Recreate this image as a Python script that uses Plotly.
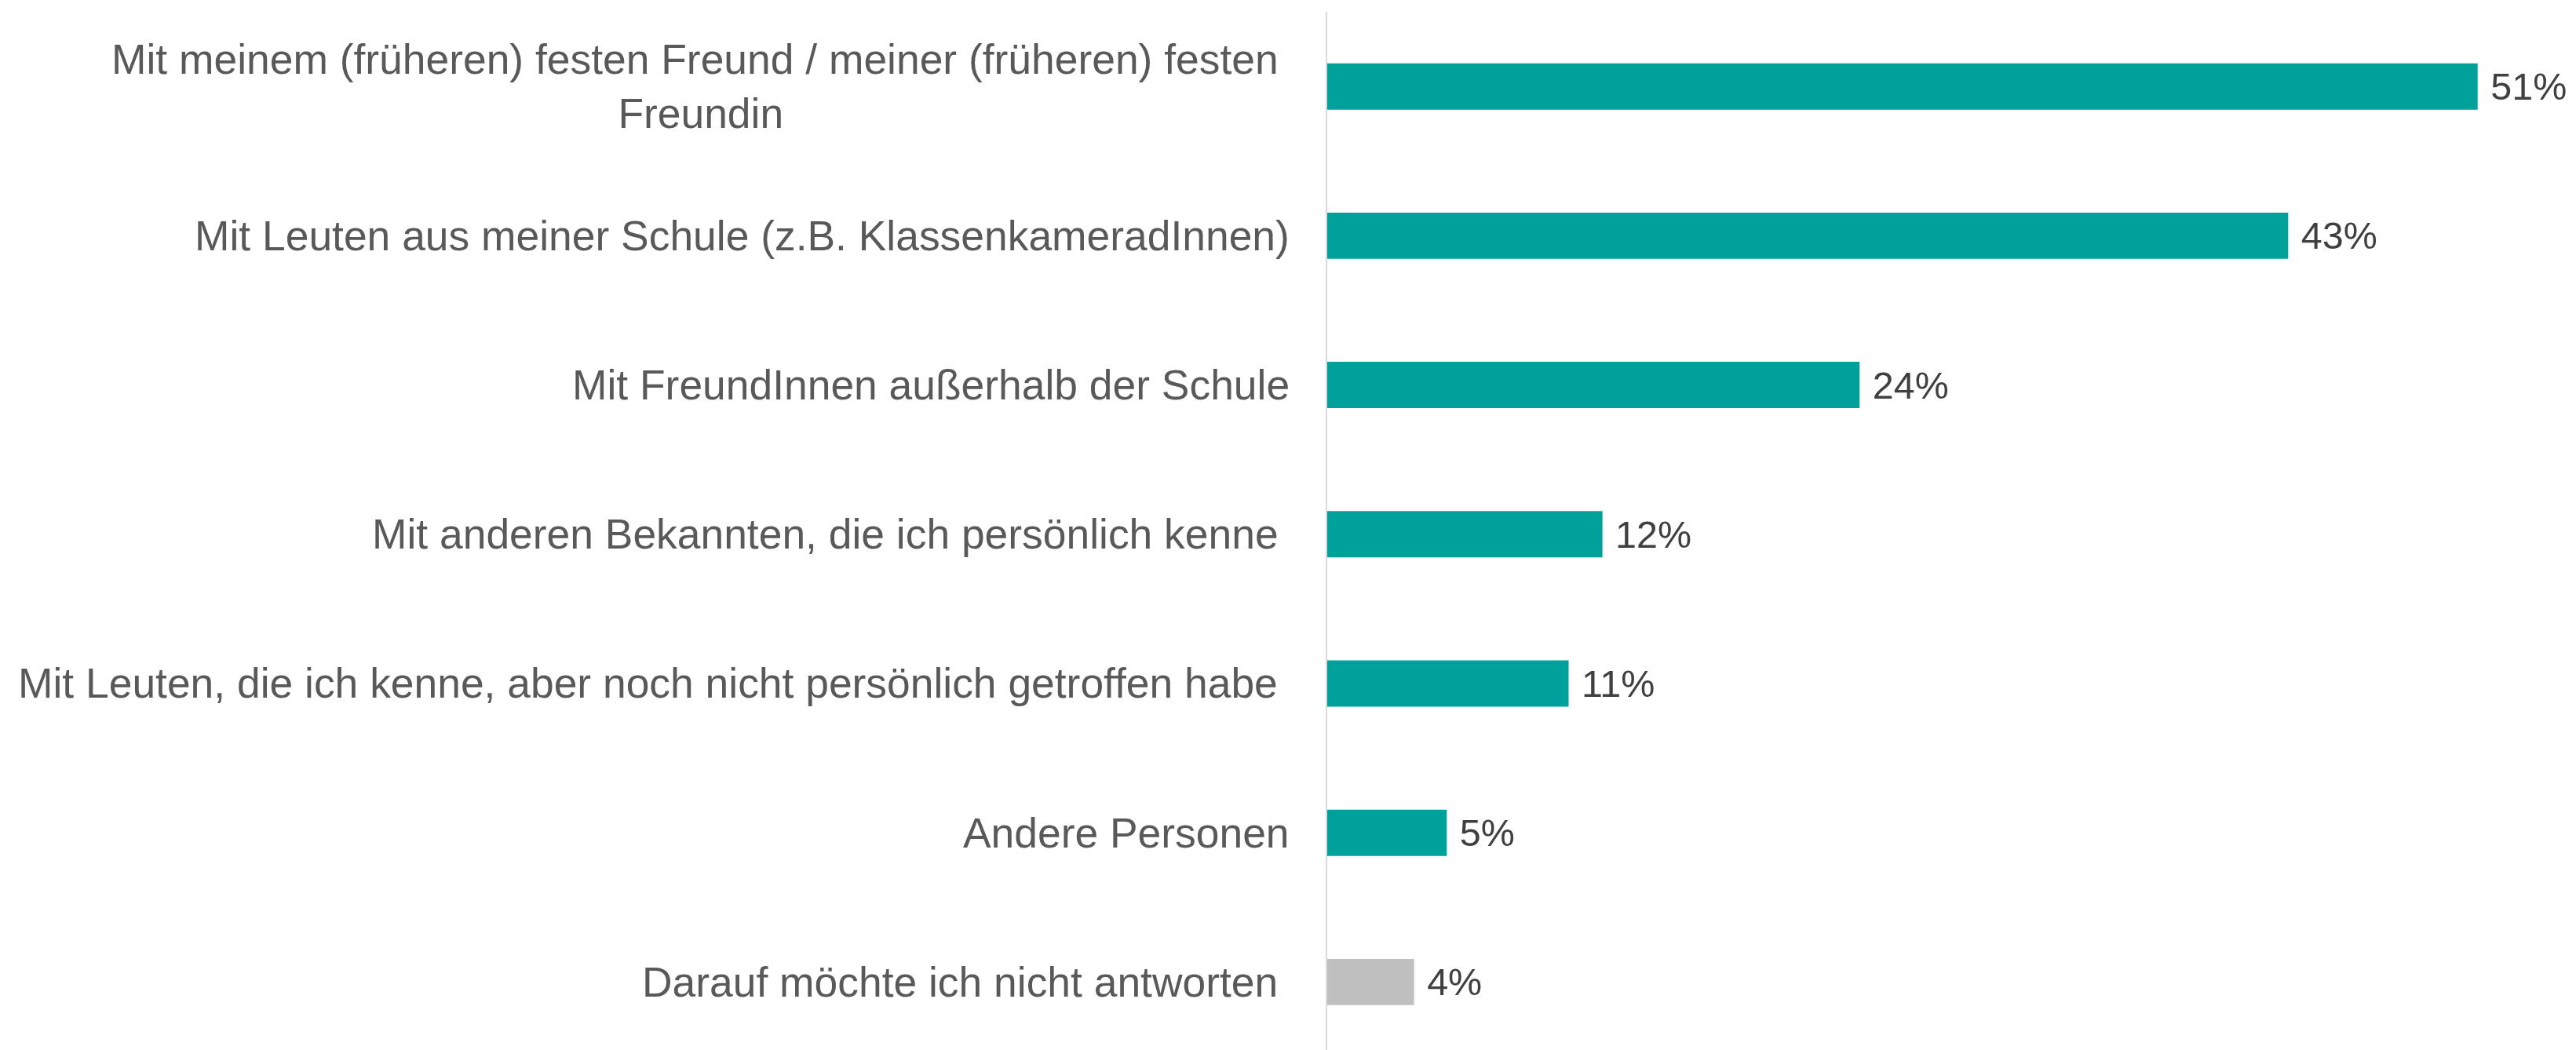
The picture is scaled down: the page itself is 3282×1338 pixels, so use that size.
import plotly.graph_objects as go

categories = [
    "Mit meinem (früheren) festen Freund / meiner (früheren) festen\u00a0<br>Freundin",
    "Mit Leuten aus meiner Schule (z.B. KlassenkameradInnen)",
    "Mit FreundInnen außerhalb der Schule",
    "Mit anderen Bekannten, die ich persönlich kenne\u00a0",
    "Mit Leuten, die ich kenne, aber noch nicht persönlich getroffen habe\u00a0",
    "Andere Personen",
    "Darauf möchte ich nicht antworten\u00a0",
]
values = [51.0, 42.6, 23.6, 12.2, 10.7, 5.3, 3.85]
value_labels = ["51%", "43%", "24%", "12%", "11%", "5%", "4%"]
colors = ["#00A19A"] * 6 + ["#BFBFBF"]

FONT = "Liberation Sans, Arial, sans-serif"
ids = list(range(len(categories)))

fig = go.Figure()
fig.add_trace(go.Bar(
    x=values, y=ids, orientation="h",
    marker=dict(color=colors, line=dict(width=0)),
    width=0.31,
    text=["\u00a0" + t for t in value_labels],
    textposition="outside",
    textfont=dict(family=FONT, size=48.5, color="#404040"),
    cliponaxis=False,
    hoverinfo="skip",
))

for i, c in enumerate(categories):
    fig.add_annotation(
        x=0, xref="paper", y=i, yref="y",
        text=c, showarrow=False, xanchor="right", yanchor="middle",
        align="center", xshift=-46,
        font=dict(family=FONT, size=53.4, color="#595959"),
    )

fig.update_layout(
    width=3282, height=1338,
    margin=dict(l=1691, r=0, t=15, b=0),
    paper_bgcolor="white", plot_bgcolor="white",
    showlegend=False,
    xaxis=dict(range=[0, 55.36], visible=False, showgrid=False, zeroline=False),
    yaxis=dict(range=[6.4555, -0.5005], showticklabels=False, showgrid=False,
               zeroline=False, showline=True, linecolor="#D9D9D9", linewidth=2,
               ticks=""),
)

fig.write_html(
    "out.html",
    config={"displayModeBar": False},
    post_script="document.body.style.margin='0';document.body.style.overflow='hidden';",
)
